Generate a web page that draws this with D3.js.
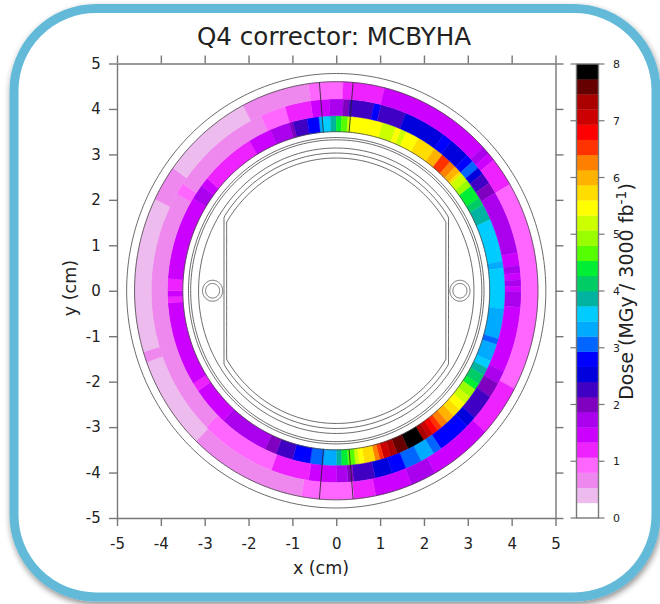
<!DOCTYPE html>
<html>
<head>
<meta charset="utf-8">
<script src="https://cdn.jsdelivr.net/npm/d3@7"></script>
<style>
  html, body { margin: 0; padding: 0; background: #fff; overflow: hidden; }
  text { font-family: "DejaVu Sans", sans-serif; fill: #222; }
  .axis path, .axis line { stroke: #777; stroke-width: 1.4; }
</style>
</head>
<body>
<svg width="660" height="604"></svg>
<script>
const titleText = 'Q4 corrector: MCBYHA';
const axisTicks = [-5, -4, -3, -2, -1, 0, 1, 2, 3, 4, 5];
const doseTicks = [0, 1, 2, 3, 4, 5, 6, 7, 8];

// 30 levels from 0 to 8 MGy, bottom of the colour bar first
const palette = ['#ffffff', '#eebbee', '#ee88ee', '#ff66ff', '#ee22ff', '#cc00ff', '#aa00ee', '#8000c0',
  '#3f00c4', '#0000dd', '#0000ff', '#0066ff', '#00aaff', '#00ccff', '#00b3a0', '#00cc66',
  '#00ee33', '#55ff00', '#99ff00', '#ccff00', '#ffff00', '#ffdd00', '#ffb300', '#ff8000',
  '#ff3300', '#ff0000', '#cc0000', '#aa0000', '#660000', '#000000'];

// cell edges in degrees, clockwise from the top, and the dose in each cell
const innerEdges = [-6, -4.8, -2, 0, 1.8, 4, 5.2, 16, 20.8, 22.7, 24.6, 29.2, 35.7, 39, 42.5, 44.9, 47, 48, 50.8, 53.2,
  58, 60.6, 66, 80.3, 82.5, 96, 106, 108, 113.8, 116.4, 119, 122.3, 124.5, 127.5, 130.3, 133, 135.9, 138.8, 141.3,
  143, 145, 146.7, 148.8, 154.8, 158.8, 161.2, 163.6, 165, 166.6, 170.4, 172.2, 173.5, 176, 178.2, 180, 184.4, 189,
  195, 201, 205, 222, 235, 238, 266, 268, 270, 274, 302, 307, 310, 329, 337, 343.8, 345.1, 350, 354];
const innerDose = [3.33, 3.6, 3.87, 4.4, 4.67, 5.2, 5.47, 5.2, 5.47, 5.2, 5.47, 5.73, 6, 6.53, 6.27, 6, 5.73, 5.2, 4.93,
  4.4, 4.13, 3.87, 3.6, 3.33, 3.6, 3.33, 3.07, 3.33, 3.6, 3.87, 4.13, 4.4, 4.93, 5.2, 5.47, 5.73, 6, 6.27, 6.53,
  6.8, 7.07, 7.33, 7.87, 7.6, 7.33, 7.07, 6.53, 6.27, 5.73, 5.47, 5.2, 4.67, 4.4, 3.87, 3.33, 3.07,
  2.8, 2.27, 2, 1.73, 1.47, 1.2, 1.47, 1.2, 1.47, 1.2, 1.47, 1.73, 1.47, 1.2, 1.47, 1.73, 2, 2.27, 2.8];

const middleEdges = [-8, -2.1, 2.2, 4.1, 11.9, 14, 22.2, 35.5, 38.5, 45, 47.5, 50.1, 52.3, 55.8, 59.3, 78.5, 82.4, 84.6,
  86.7, 88.7, 90.2, 95, 115, 119, 123.7, 131.6, 135, 145.5, 148.2, 152.7, 157.9, 162.4, 167.8, 174.6, 176.4, 180,
  188.6, 200.6, 224.6, 300.5, 304, 336, 344, 352];
const middleDose = [1.47, 1.73, 2, 2.27, 2.8, 2.27, 2.53, 2.8, 2.53, 2.8, 3.07, 2.53, 2.27, 2, 1.73, 1.47, 1.73,
  1.47, 1.73, 1.47, 1.73, 1.47, 1.73, 2, 2.27, 2.53, 2.8, 3.07, 3.33, 3.07, 2.8, 2.53, 2.27, 2, 1.73,
  1.47, 1.2, 0.93, 0.67, 0.93, 0.67, 0.93, 1.2];

const outerEdges = [-8, 2, 13.9, 46.6, 49, 51.3, 59.4, 118, 132.5, 150.7, 158.1, 168.7, 175, 190, 224, 250, 253, 296,
  306, 332.5, 352];
const outerDose = [0.93, 1.2, 1.47, 1.73, 1.47, 1.2, 0.93, 1.2, 1.47, 1.73, 1.47, 1.2, 0.93, 0.67, 0.4, 0.67, 0.4,
  0.67, 0.4, 0.67];

// coil bands, inner and outer radius in cm
const bands = [
  { r0: 3.5, r1: 3.85, edges: innerEdges, dose: innerDose },
  { r0: 3.85, r1: 4.22, edges: middleEdges, dose: middleDose },
  { r0: 4.22, r1: 4.6, edges: outerEdges, dose: outerDose }
];

// outlines of the cross section
const circleRadii = [4.78, 4.6, 3.5, 3.37, 3.32, 3.14];
const screenShapes = [{ r: 3.03, flat: 2.56 }, { r: 2.92, flat: 2.5 }];
const capillaryX = [-2.82, 2.82];
const capillaryRadii = [0.23, 0.16];
const sectorLines = [-4.8, 4.8, 175.2, 184.8];

const svg = d3.select('svg');

const xScale = d3.scaleLinear().domain([-5, 5]).range([117, 555.5]);
const yScale = d3.scaleLinear().domain([-5, 5]).range([518, 63.5]);
const doseScale = d3.scaleLinear().domain([0, 8]).range([518, 64]);
const colorScale = d3.scaleQuantize().domain([0, 8]).range(palette);

const polar = (r, deg) => {
    const a = deg * Math.PI / 180;
    return [r * Math.sin(a), r * Math.cos(a)];
};
const line = d3.line().x(d => xScale(d[0])).y(d => yScale(d[1]));

const cellPoints = (r0, r1, a0, a1) => {
    const steps = d3.range(a0, a1, 0.5).concat([a1]);
    return steps.map(a => polar(r1, a)).concat(steps.reverse().map(a => polar(r0, a)));
};

const drawFrame = () => {
    const filter = svg.append('defs').append('filter')
        .attr('id', 'shadow')
        .attr('x', '-5%').attr('y', '-5%')
        .attr('width', '110%').attr('height', '110%');
    filter.append('feDropShadow')
        .attr('dx', 1).attr('dy', 3)
        .attr('stdDeviation', 3)
        .attr('flood-color', '#000')
        .attr('flood-opacity', 0.45);

    svg.append('rect')
        .attr('x', 14).attr('y', 8.5)
        .attr('width', 642).attr('height', 588.5)
        .attr('rx', 82).attr('ry', 82)
        .attr('fill', '#fff')
        .attr('stroke', '#62b9d8')
        .attr('stroke-width', 9)
        .attr('filter', 'url(#shadow)');
};

const drawCells = () => {
    bands.forEach(band => {
        svg.append('g').selectAll('path')
            .data(band.dose)
            .enter()
            .append('path')
            .attr('d', (d, i) => line(cellPoints(band.r0, band.r1, band.edges[i], band.edges[i + 1])) + 'Z')
            .attr('fill', d => colorScale(d))
            .attr('stroke', d => colorScale(d))
            .attr('stroke-width', 0.4);
    });
};

const drawOutlines = () => {
    const g = svg.append('g').attr('fill', 'none').attr('stroke', '#444').attr('stroke-width', 0.8);
    const fullTurn = d3.range(0, 360.5, 1);

    circleRadii.forEach(r => {
        g.append('path').attr('d', line(fullTurn.map(a => polar(r, a))) + 'Z');
    });

    screenShapes.forEach(s => {
        const points = fullTurn.map(a => {
            const p = polar(s.r, a);
            return [Math.max(-s.flat, Math.min(s.flat, p[0])), p[1]];
        });
        g.append('path').attr('d', line(points) + 'Z');
    });

    capillaryX.forEach(x => {
        capillaryRadii.forEach(r => {
            const points = fullTurn.map(a => {
                const p = polar(r, a);
                return [x + p[0], p[1]];
            });
            g.append('path').attr('d', line(points) + 'Z');
        });
    });

    sectorLines.forEach(a => {
        g.append('path')
            .attr('d', line([polar(3.5, a), polar(4.6, a)]))
            .attr('stroke', '#222');
    });
};

const drawAxes = () => {
    // the reference prints a plain hyphen for negative ticks
    const hyphenFormat = d => String(d);
    const make = (axis, transform, labelled) => {
        const g = svg.append('g')
            .attr('class', 'axis')
            .attr('transform', transform)
            .call(axis.tickValues(axisTicks).tickSize(8).tickSizeOuter(0).tickFormat(labelled ? hyphenFormat : ''));
        g.selectAll('text').style('font-size', '15px').attr('fill', '#222');
        return g;
    };
    make(d3.axisBottom(xScale), 'translate(0,518)', true).selectAll('text').attr('dy', '1.35em');
    make(d3.axisTop(xScale), 'translate(0,63.5)', false);
    make(d3.axisLeft(yScale), 'translate(117,0)', true).selectAll('text').attr('dx', '-0.35em');
    make(d3.axisRight(yScale), 'translate(555.5,0)', false);
};

const drawColorBar = () => {
    const binHeight = 8 / palette.length;
    svg.append('g').selectAll('rect')
        .data(palette)
        .enter()
        .append('rect')
        .attr('x', 576.5)
        .attr('width', 22)
        .attr('y', (d, i) => doseScale((i + 1) * binHeight))
        .attr('height', doseScale(0) - doseScale(binHeight) + 0.3)
        .attr('fill', d => d);

    svg.append('rect')
        .attr('x', 576.5).attr('y', doseScale(8))
        .attr('width', 22).attr('height', doseScale(0) - doseScale(8))
        .attr('fill', 'none').attr('stroke', '#777').attr('stroke-width', 1.4);

    const ticks = svg.append('g');
    doseTicks.forEach(v => {
        ticks.append('line')
            .attr('x1', 570.5).attr('x2', 576.5)
            .attr('y1', doseScale(v)).attr('y2', doseScale(v))
            .attr('stroke', '#777').attr('stroke-width', 1.2);
        ticks.append('line')
            .attr('x1', 598.5).attr('x2', 604.5)
            .attr('y1', doseScale(v)).attr('y2', doseScale(v))
            .attr('stroke', '#777').attr('stroke-width', 1.2);
        ticks.append('text')
            .attr('x', 613).attr('y', doseScale(v) + 4)
            .style('font-size', '11px')
            .text(v);
    });
};

const drawLabels = () => {
    svg.append('text')
        .attr('x', 334).attr('y', 45)
        .attr('text-anchor', 'middle')
        .style('font-size', '24.6px')
        .text(titleText);

    svg.append('text')
        .attr('x', 321).attr('y', 574)
        .attr('text-anchor', 'middle')
        .style('font-size', '17.5px')
        .text('x (cm)');

    svg.append('text')
        .attr('transform', 'translate(76,288) rotate(-90)')
        .attr('text-anchor', 'middle')
        .style('font-size', '17.5px')
        .text('y (cm)');

    const dose = svg.append('text')
        .attr('transform', 'translate(633,291.5) rotate(-90)')
        .attr('text-anchor', 'middle')
        .style('font-size', '19px');
    dose.append('tspan').text('Dose (MGy / 3000 fb');
    dose.append('tspan').attr('dy', -7).style('font-size', '14px').text('-1');
    dose.append('tspan').attr('dy', 7).text(')');
};

drawFrame();
drawCells();
drawOutlines();
drawAxes();
drawColorBar();
drawLabels();
</script>
</body>
</html>
